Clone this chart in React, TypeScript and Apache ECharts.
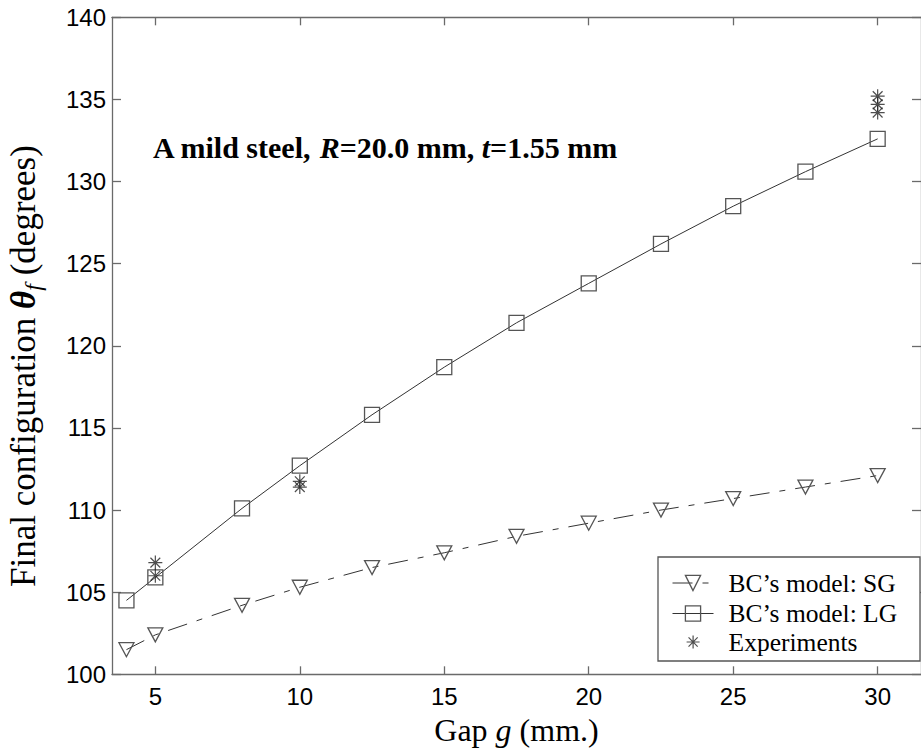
import React, { useEffect, useRef } from 'react';
import * as echarts from 'echarts';

const gapValues = [4, 5, 8, 10, 12.5, 15, 17.5, 20, 22.5, 25, 27.5, 30];
const sgValues = [101.5, 102.4, 104.2, 105.3, 106.5, 107.4, 108.4, 109.2, 110.0, 110.7, 111.4, 112.1];
const lgValues = [104.5, 105.9, 110.1, 112.7, 115.8, 118.7, 121.4, 123.8, 126.2, 128.5, 130.6, 132.6];
const expGaps = [5, 5, 10, 10, 30, 30, 30];
const expValues = [106.0, 106.8, 111.4, 111.75, 134.2, 134.7, 135.2];
const xTicks = [5, 10, 15, 20, 25, 30];
const seriesNames = ['BC’s model: SG', 'BC’s model: LG', 'Experiments'];

const serif = "'Liberation Serif', 'Times New Roman', serif";
const sans = "'Liberation Sans', Arial, sans-serif";
const axisColor = '#6a6a6a';
const starPath = 'path://M10,0L10,20M0,10L20,10M3,3L17,17M3,17L17,3';

export default function App() {
  const ref = useRef<HTMLDivElement>(null);
  useEffect(() => {
    document.body.style.margin = '0';
    if (!ref.current) return;
    const chart = echarts.init(ref.current, undefined, { renderer: 'svg' });
    const axisLineStyle = { color: axisColor, width: 1.3 };
    const legendFont = { fontFamily: serif, fontSize: 25.5, color: '#000', lineHeight: 25 };
    const option: any = {
      animation: false,
      backgroundColor: '#fff',
      grid: { left: 112, top: 17.3, right: -12, bottom: 78.7 },
      xAxis: [
        {
          type: 'value',
          min: 3.5,
          max: 31.5,
          position: 'bottom',
          axisLine: { show: true, onZero: false, lineStyle: axisLineStyle },
          axisTick: { show: true, inside: true, length: 8, customValues: xTicks, lineStyle: axisLineStyle },
          axisLabel: { customValues: xTicks, color: '#000', fontFamily: sans, fontSize: 24, margin: 10 },
          splitLine: { show: false },
          name: '{n|Gap }{i|g}{n| (mm.)}',
          nameLocation: 'middle',
          nameGap: 40,
          nameTextStyle: {
            rich: {
              n: { fontFamily: serif, fontSize: 32, color: '#000' },
              i: { fontFamily: serif, fontSize: 32, fontStyle: 'italic', color: '#000' },
            },
          },
        },
        {
          type: 'value',
          min: 3.5,
          max: 31.5,
          position: 'top',
          axisLine: { show: true, onZero: false, lineStyle: axisLineStyle },
          axisTick: { show: true, inside: true, length: 8, customValues: xTicks, lineStyle: axisLineStyle },
          axisLabel: { show: false },
          splitLine: { show: false },
        },
      ],
      yAxis: [
        {
          type: 'value',
          min: 100,
          max: 140,
          interval: 5,
          axisLine: { show: true, onZero: false, lineStyle: axisLineStyle },
          axisTick: { show: true, inside: true, length: 9, lineStyle: axisLineStyle },
          axisLabel: { color: '#000', fontFamily: sans, fontSize: 24, margin: 6 },
          splitLine: { show: false },
        },
        {
          type: 'value',
          min: 100,
          max: 140,
          interval: 5,
          position: 'right',
          axisLine: { show: true, onZero: false, lineStyle: axisLineStyle },
          axisTick: { show: true, inside: true, length: 9, lineStyle: axisLineStyle },
          axisLabel: { show: false },
          splitLine: { show: false },
        },
      ],
      legend: [
        {
          data: [seriesNames[0], seriesNames[1]],
          orient: 'vertical',
          left: 672,
          top: 570,
          itemWidth: 41,
          itemHeight: 19,
          itemGap: 4.5,
          padding: 0,
          selectedMode: false,
          textStyle: { ...legendFont, padding: [0, 0, 0, 10] },
          itemStyle: { borderWidth: 1.3 },
          lineStyle: { width: 1 },
          z: 10,
        },
        {
          data: [seriesNames[2]],
          orient: 'vertical',
          left: 686,
          top: 629,
          itemWidth: 13,
          itemHeight: 13,
          padding: 0,
          selectedMode: false,
          textStyle: { ...legendFont, padding: [0, 0, 0, 24] },
          itemStyle: { borderWidth: 1.2 },
          z: 10,
        },
      ],
      graphic: [
        {
          type: 'rect',
          z: 5,
          shape: { x: 658, y: 557, width: 262, height: 104 },
          style: { fill: '#fff', stroke: '#555', lineWidth: 1.3 },
        },
        {
          type: 'text',
          z: 5,
          x: 153,
          y: 147,
          style: {
            text: '{b|A mild steel, }{bi|R}{b|=20.0 mm, }{bi|t}{b|=1.55 mm}',
            verticalAlign: 'middle',
            align: 'left',
            fill: '#000',
            rich: {
              b: { fontFamily: serif, fontSize: 30, fontWeight: 'bold', fill: '#000' },
              bi: { fontFamily: serif, fontSize: 30, fontWeight: 'bold', fontStyle: 'italic', fill: '#000' },
            },
          },
        },
        {
          type: 'text',
          z: 5,
          x: 23,
          y: 366,
          rotation: Math.PI / 2,
          style: {
            text: '{n|Final configuration }{th|θ}{sub|f}{n| (degrees)}',
            verticalAlign: 'middle',
            align: 'center',
            fill: '#000',
            rich: {
              n: { fontFamily: serif, fontSize: 35, lineHeight: 44, fill: '#000' },
              th: { fontFamily: serif, fontSize: 35, lineHeight: 44, fontWeight: 'bold', fontStyle: 'italic', fill: '#000' },
              sub: { fontFamily: serif, fontSize: 24, lineHeight: 24, fontStyle: 'italic', verticalAlign: 'bottom', fill: '#000' },
            },
          },
        },
      ],
      series: [
        {
          name: seriesNames[0],
          type: 'line',
          data: gapValues.map((g, i) => [g, sgValues[i]]),
          symbol: 'triangle',
          symbolRotate: 180,
          symbolSize: [15, 14],
          itemStyle: { color: 'transparent', borderColor: '#555', borderWidth: 1.3 },
          lineStyle: { color: '#333', width: 1, type: [20, 10, 6, 10] },
        },
        {
          name: seriesNames[1],
          type: 'line',
          data: gapValues.map((g, i) => [g, lgValues[i]]),
          symbol: 'rect',
          symbolSize: 15,
          itemStyle: { color: 'transparent', borderColor: '#555', borderWidth: 1.3 },
          lineStyle: { color: '#333', width: 1 },
        },
        {
          name: seriesNames[2],
          type: 'scatter',
          data: expGaps.map((g, i) => [g, expValues[i]]),
          symbol: starPath,
          symbolSize: 14,
          itemStyle: { color: 'transparent', borderColor: '#222', borderWidth: 1.2 },
          z: 3,
        },
      ],
    };
    chart.setOption(option);
    return () => chart.dispose();
  }, []);
  return <div ref={ref} style={{ width: 921, height: 753 }} />;
}
